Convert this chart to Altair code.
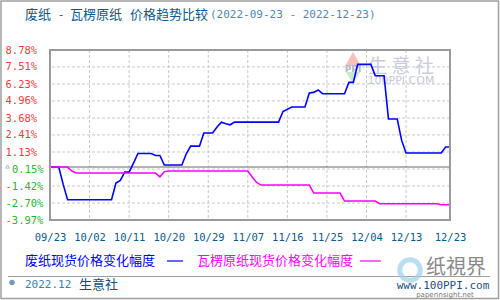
import altair as alt
import pandas as pd

# ---------------- data ----------------
blue_dates = ["2022-09-23", "2022-09-25", "2022-09-26", "2022-09-27", "2022-10-07", "2022-10-08",
              "2022-10-09", "2022-10-10", "2022-10-11", "2022-10-12", "2022-10-13", "2022-10-16",
              "2022-10-17", "2022-10-18", "2022-10-19", "2022-10-23", "2022-10-24", "2022-10-25",
              "2022-10-27", "2022-10-28", "2022-10-30", "2022-10-31", "2022-11-01", "2022-11-02",
              "2022-11-03", "2022-11-04", "2022-11-14", "2022-11-15", "2022-11-17", "2022-11-20",
              "2022-11-21", "2022-11-22", "2022-11-23", "2022-11-24", "2022-11-29", "2022-11-30",
              "2022-12-01", "2022-12-02", "2022-12-05", "2022-12-06", "2022-12-08", "2022-12-09",
              "2022-12-11", "2022-12-12", "2022-12-13", "2022-12-21", "2022-12-22", "2022-12-23"]
blue_values = [0.00, 0.00, -1.30, -2.45, -2.45, -1.20,
               -1.00, -0.38, -0.38, 0.30, 1.02, 1.02,
               0.87, 0.87, 0.15, 0.15, 1.00, 1.57,
               1.57, 2.55, 2.55, 3.00, 3.37, 3.25,
               3.17, 3.37, 3.37, 4.17, 4.50, 4.50,
               5.55, 5.60, 5.78, 5.50, 5.50, 6.35,
               6.35, 7.70, 7.70, 6.85, 6.85, 3.60,
               3.60, 2.00, 1.05, 1.05, 1.50, 1.50]

pink_dates = ["2022-09-23", "2022-09-27", "2022-09-28", "2022-09-29", "2022-10-17", "2022-10-18",
              "2022-10-19", "2022-10-20", "2022-11-07", "2022-11-08", "2022-11-09", "2022-11-10",
              "2022-11-21", "2022-11-22", "2022-11-28", "2022-11-29", "2022-12-06", "2022-12-07",
              "2022-12-20", "2022-12-21", "2022-12-23"]
pink_values = [0.00, 0.00, -0.30, -0.45, -0.45, -0.73,
               -0.35, -0.30, -0.30, -0.75, -1.15, -1.35,
               -1.35, -1.95, -1.95, -2.55, -2.55, -2.75,
               -2.75, -2.83, -2.83]

series_names = ["废纸现货价格变化幅度", "瓦楞原纸现货价格变化幅度"]
series_colors = ["#0000ff", "#ff00ff"]

y_ticks = [8.78, 7.51, 6.23, 4.96, 3.68, 2.41, 1.13, -0.15, -1.42, -2.70, -3.97]
y_tick_labels = ["8.78%", "7.51%", "6.23%", "4.96%", "3.68%", "2.41%", "1.13%",
                 "0.15%", "-1.42%", "-2.70%", "-3.97%"]
x_tick_dates = [(9, 23), (10, 2), (10, 11), (10, 20), (10, 29), (11, 7),
                (11, 16), (11, 25), (12, 4), (12, 13), (12, 23)]
x_tick_labels = ["09/23", "10/02", "10/11", "10/20", "10/29", "11/07",
                 "11/16", "11/25", "12/04", "12/13", "12/23"]

title_parts = ["废纸", "-", "瓦楞原纸", "价格趋势比较", "(2022-09-23 - 2022-12-23)"]
footer_date = "2022.12"
footer_org = "生意社"

# ---------------- build ----------------
df = pd.concat([
    pd.DataFrame({"date": [d + "T00:00:00" for d in blue_dates], "value": blue_values,
                  "series": series_names[0]}),
    pd.DataFrame({"date": [d + "T00:00:00" for d in pink_dates], "value": pink_values,
                  "series": series_names[1]}),
], ignore_index=True)

W, H = 400, 170
MONO = "DejaVu Sans Mono"
CJK = "Noto Sans CJK SC"

y_expr = " : ".join(f"datum.value == {v} ? '{t}'" for v, t in zip(y_ticks, y_tick_labels)) + " : ''"
x_expr = " : ".join(
    f"(month(datum.value) == {m - 1} && date(datum.value) == {d}) ? '{t}'"
    for (m, d), t in zip(x_tick_dates, x_tick_labels)) + " : ''"

x_dt = [alt.DateTime(year=2022, month=m, date=d) for m, d in x_tick_dates]

x_scale = alt.Scale(domain=[alt.DateTime(year=2022, month=9, date=23),
                            alt.DateTime(year=2022, month=12, date=23)])
y_scale = alt.Scale(domain=[-3.97, 8.78], nice=False, zero=False)

x_axis = alt.Axis(values=x_dt, labelExpr=x_expr, grid=False, ticks=False, tickSize=0,
                  domain=False, labelPadding=12, labelFont=MONO, labelFontSize=10.5,
                  labelColor="#0b5a8c", labelFlush=False, labelOverlap=False,
                  labelBound=False, title=None)
y_axis = alt.Axis(values=y_ticks, labelExpr=y_expr, grid=False, ticks=False, tickSize=0,
                  domain=False, labelAlign="left", labelBaseline="middle",
                  labelPadding={"condition": {"test": "datum.value == -0.15", "value": 38.5},
                                "value": 45},
                  labelColor={"condition": {"test": "datum.value > 0", "value": "#f03c3c"},
                              "value": "#30b030"},
                  labelFont=MONO, labelFontSize=10.5, labelOverlap=False,
                  labelBound=False, labelFlush=False, title=None)

# grid layers
xgrid = alt.Chart(pd.DataFrame({"d": [f"2022-{m:02d}-{d:02d}T00:00:00" for m, d in x_tick_dates[1:-1]]})).mark_rule(
    color="#c8c8c8", strokeWidth=1, strokeDash=[3, 2]
).encode(x=alt.X("d:T", scale=x_scale, axis=x_axis))

ygrid = alt.Chart(pd.DataFrame({"v": [v for v in y_ticks if v not in (8.78, -3.97)]})).mark_rule(
    color="#c8c8c8", strokeWidth=1, strokeDash=[3, 2]
).encode(y=alt.Y("v:Q", scale=y_scale, axis=y_axis))

zero = alt.Chart(pd.DataFrame({"v": [0.0]})).mark_rule(color="#999999", strokeWidth=1.5).encode(
    y=alt.Y("v:Q", scale=y_scale, axis=y_axis))

lines = alt.Chart(df).mark_line(strokeWidth=1.6, interpolate="linear").encode(
    x=alt.X("date:T", scale=x_scale, axis=x_axis),
    y=alt.Y("value:Q", scale=y_scale, axis=y_axis),
    color=alt.Color("series:N", scale=alt.Scale(domain=series_names, range=series_colors), legend=None),
)


def txt(text, x, y, size, color, font=CJK, align="left", **kw):
    return alt.Chart(pd.DataFrame({"t": [text]})).mark_text(
        align=align, baseline="middle", fontSize=size, color=color, font=font, **kw
    ).encode(text="t:N", x=alt.value(x), y=alt.value(y))


def rule(x1, x2, y, color, width=1.0):
    return alt.Chart(pd.DataFrame({"a": [0]})).mark_rule(color=color, strokeWidth=width).encode(
        x=alt.value(x1), x2=alt.value(x2), y=alt.value(y))


def pt(x, y, shape, size, color, filled=True, **kw):
    return alt.Chart(pd.DataFrame({"a": [0]})).mark_point(
        shape=shape, filled=filled, size=size, color=color, **kw).encode(
        x=alt.value(x), y=alt.value(y))


# watermark in plot
wm = [
    pt(303, 9, "triangle-up", 260, "#f6b9b2", opacity=0.9),
    pt(303, 28, "triangle-down", 200, "#c4e6c4", opacity=0.9),
    txt("PPI", 303, 19, 9, "#b0b6cc", font="DejaVu Sans", align="center", fontWeight="bold"),
    txt("生 意 社", 351, 17, 19, "#c8cde0", align="center"),
    txt("100PPI.COM", 351, 31, 11, "#c6c8d2", font="DejaVu Sans", align="center"),
]

# small marker icon beside the 0.15% label
icon = [pt(-42.5, 116.5, "triangle-up", 14, "#9a9a9a", filled=False, strokeWidth=1)]

# titles, legend, footer (relative to plot origin at (50, 50))
title = [
    txt(title_parts[0], -25, -35, 13, "#0b5a8c"),
    txt(title_parts[1], 11, -35, 12, "#0b5a8c", align="center"),
    txt(title_parts[2], 20, -35, 13, "#0b5a8c"),
    txt(title_parts[3], 80, -35, 13, "#0b5a8c"),
    txt(title_parts[4], 160, -35, 11, "#4a8ab8", font=MONO),
]

legend = [
    txt(series_names[0], -25, 211, 13, series_colors[0]),
    rule(117, 133, 211, series_colors[0], 1.2),
    txt(series_names[1], 147, 211, 13, series_colors[1]),
    rule(310, 331, 211, series_colors[1], 1.2),
]

footer = [
    rule(-42, 440, 226.5, "#a0a0a0", 1.2),
    pt(-38, 232.5, "circle", 30, "#3a6f98"),
    txt(footer_date, -25, 235, 11, "#3a7fb0", font=MONO),
    txt(footer_org, 29, 235, 13, "#0b4f80"),
    pt(360, 220, "circle", 420, "#9fd0ea", filled=False, strokeWidth=5),
    txt("纸視界", 406, 218, 20, "#8a8a8a", align="center"),
    txt("www.100PPI.com", 393, 235.5, 11, "#1f4f7f", font=MONO, align="center"),
    txt("paperinsight.net", 395, 244.5, 7, "#777777", font="DejaVu Sans", align="center"),
]

border_plot = alt.Chart(pd.DataFrame({"a": [0]})).mark_rect(
    filled=False, stroke="#9a9a9a", strokeWidth=2).encode(
    x=alt.value(0), x2=alt.value(W), y=alt.value(0), y2=alt.value(H))
border_all = alt.Chart(pd.DataFrame({"a": [0]})).mark_rect(
    filled=False, stroke="#a0a0a0", strokeWidth=1.5).encode(
    x=alt.value(-49), x2=alt.value(448.5), y=alt.value(-49), y2=alt.value(248.5))

chart = alt.layer(
    xgrid, ygrid, *wm, zero, lines, border_plot, border_all, *icon, *title, *legend, *footer
).properties(
    width=W, height=H,
    autosize=alt.AutoSizeParams(type="none"),
    padding={"left": 50, "top": 50, "right": 50, "bottom": 80},
    background="white",
).configure_view(stroke=None)

chart.save("out.html", embed_options={"renderer": "svg", "actions": False})
